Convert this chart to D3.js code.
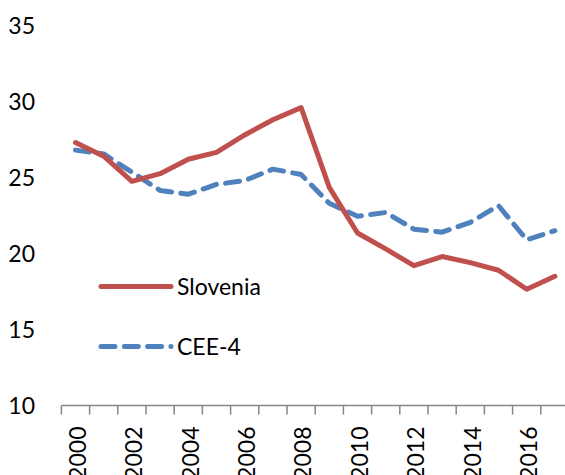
<!DOCTYPE html>
<html>
<head>
<meta charset="utf-8">
<script src="https://cdn.jsdelivr.net/npm/d3@7"></script>
<style>
  body { margin: 0; background: #fff; }
  svg text { font-family: Lato, "Open Sans", sans-serif; fill: #000; }
</style>
</head>
<body>
<div id="chart"></div>
<script>
// Slovenia vs CEE-4, 2000-2017
const years = d3.range(2000, 2018);
const slovenia = [27.3, 26.4, 24.75, 25.25, 26.2, 26.65, 27.8, 28.8, 29.6, 24.35,
                  21.35, 20.3, 19.2, 19.8, 19.4, 18.9, 17.65, 18.5];
const cee4 = [26.8, 26.55, 25.35, 24.15, 23.9, 24.55, 24.8, 25.55, 25.2, 23.3,
              22.45, 22.7, 21.6, 21.4, 22.05, 23.15, 20.9, 21.5];
const yTicks = [10, 15, 20, 25, 30, 35];
const seriesNames = ["Slovenia", "CEE-4"];

const width = 565;
const height = 475;

const svg = d3.select("#chart")
    .append("svg")
    .attr("width", width)
    .attr("height", height);

const x = d3.scaleBand()
    .domain(years)
    .range([61.4, 61.4 + 28.2 * years.length]);

const y = d3.scaleLinear()
    .domain([10, 35])
    .range([405.5, 25.5]);

// y labels (no axis line)
svg.append("g")
  .selectAll("text")
  .data(yTicks)
  .join("text")
    .attr("x", 35)
    .attr("y", d => y(d))
    .attr("dy", "0.36em")
    .attr("text-anchor", "end")
    .style("font-size", "23px")
    .text(d => d);

// x axis: line + ticks at category boundaries
const xa = svg.append("g");
xa.append("line")
    .attr("x1", x(years[0]))
    .attr("x2", width)
    .attr("y1", y(10))
    .attr("y2", y(10))
    .attr("stroke", "#868686")
    .attr("stroke-width", 1.5);

xa.selectAll("line.tick")
  .data(years)
  .join("line")
    .attr("class", "tick")
    .attr("x1", d => x(d))
    .attr("x2", d => x(d))
    .attr("y1", y(10))
    .attr("y2", y(10) + 9)
    .attr("stroke", "#868686")
    .attr("stroke-width", 1.5);

xa.selectAll("text")
  .data(years.filter(d => d % 2 === 0))
  .join("text")
    .attr("transform", d => `translate(${x(d) + x.bandwidth() / 2},${y(10) + 21}) rotate(-90)`)
    .attr("dy", "0.45em")
    .attr("text-anchor", "end")
    .style("font-size", "23px")
    .text(d => d);

const line = d3.line()
    .x((d, i) => x(years[i]) + x.bandwidth() / 2)
    .y(d => y(d));

svg.append("path")
    .attr("d", line(cee4))
    .attr("fill", "none")
    .attr("stroke", "#4F81BD")
    .attr("stroke-width", 5)
    .attr("stroke-linecap", "round")
    .attr("stroke-linejoin", "round")
    .attr("stroke-dasharray", "14 9.3");

svg.append("path")
    .attr("d", line(slovenia))
    .attr("fill", "none")
    .attr("stroke", "#C0504D")
    .attr("stroke-width", 5)
    .attr("stroke-linecap", "round")
    .attr("stroke-linejoin", "round");

// legend
const legend = svg.append("g");
const legendY = [286.5, 346.5];
legend.append("line")
    .attr("x1", 101).attr("x2", 171)
    .attr("y1", legendY[0]).attr("y2", legendY[0])
    .attr("stroke", "#C0504D")
    .attr("stroke-width", 5)
    .attr("stroke-linecap", "round");
legend.append("line")
    .attr("x1", 101).attr("x2", 171)
    .attr("y1", legendY[1]).attr("y2", legendY[1])
    .attr("stroke", "#4F81BD")
    .attr("stroke-width", 5)
    .attr("stroke-linecap", "round")
    .attr("stroke-dasharray", "14 9.3");
legend.selectAll("text")
  .data(seriesNames)
  .join("text")
    .attr("x", 177)
    .attr("y", (d, i) => legendY[i])
    .attr("dy", "0.36em")
    .style("font-size", "23px")
    .text(d => d);
</script>
</body>
</html>
